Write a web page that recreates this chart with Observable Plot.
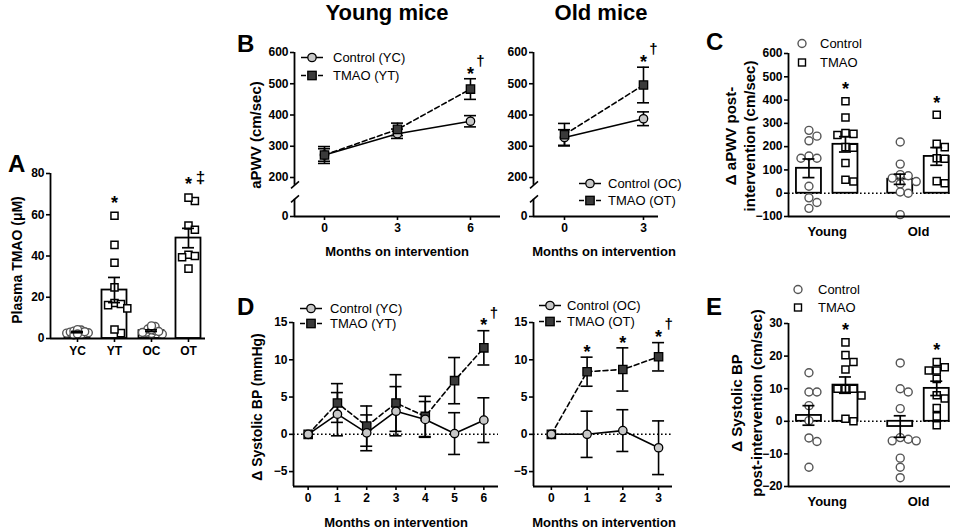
<!DOCTYPE html>
<html><head><meta charset="utf-8">
<script src="https://cdn.jsdelivr.net/npm/d3@7"></script>
<script src="https://cdn.jsdelivr.net/npm/@observablehq/plot@0.6"></script>
<style>
body{margin:0;background:#fff}
#fig{position:relative;width:958px;height:531px;background:#fff;font-family:"Liberation Sans",Arial,sans-serif;color:#000;overflow:hidden}
.ytitle{position:absolute;font-weight:bold;transform:translate(-50%,-50%) rotate(-90deg);white-space:nowrap;text-align:center}
.xtitle{position:absolute;font-weight:bold;font-size:13px;transform:translate(-50%,-50%);white-space:nowrap;line-height:1}
.letter{position:absolute;font-weight:bold;font-size:24px;line-height:1}
.title{position:absolute;font-weight:bold;font-size:22px;line-height:1;transform:translateX(-50%);white-space:nowrap}
.leg{position:absolute;font-size:13px;display:flex;align-items:center;white-space:nowrap;transform:translateY(-50%);line-height:1}
</style></head><body><div id="fig"></div><script>
// ================= DATA =================
// Panel A – plasma TMAO (µM)
const aGroups = ["YC", "YT", "OC", "OT"];
const aYC = [2.0, 2.6, 3.1, 3.6, 4.1, 2.8, 3.3, 1.7, 4.3, 2.2];
const aYT = [59.5, 45.4, 36.7, 24.8, 17.2, 16.7, 14.6, 16.2, 2.6, 4.4];
const aOC = [2.4, 3.0, 3.8, 4.6, 5.8, 2.1, 3.4, 4.2, 2.9, 6.1];
const aOT = [66.7, 68.3, 54.8, 52.7, 40.6, 39.4, 40.0, 33.9];
const aMean = [3.1, 23.5, 3.8, 48.7];
const aSem = [0.3, 6.1, 0.4, 4.7];

// Panel B – aPWV (cm/sec)
const bMonthsYoung = [0, 3, 6];
const bYC = [272, 340, 380], bYCsem = [20, 15, 18];
const bYT = [272, 354, 483], bYTsem = [27, 20, 33];
const bMonthsOld = [0, 3];
const bOC = [328, 388], bOCsem = [25, 22];
const bOT = [337, 496], bOTsem = [36, 57];
const bTicks = [0, 200, 300, 400, 500, 600];

// Panel C – Δ aPWV post-intervention (cm/sec)
const cGroups = ["Young", "Old"];
const cYoungControl = [270, 245, 225, 160, 150, 150, 30, -20, -40, -65];
const cYoungTmao = [395, 325, 255, 258, 250, 198, 195, 130, 50, 58];
const cOldControl = [220, 125, 80, 75, 65, 50, 40, 5, 0, -92];
const cOldTmao = [337, 212, 198, 150, 148, 52, 43];
const cMean = [107, 210, 60, 158];
const cSem = [40, 33, 22, 38];

// Panel D – Δ systolic BP (mmHg)
const dMonthsYoung = [0, 1, 2, 3, 4, 5, 6];
const dYC = [0, 2.7, 0.2, 3.1, 2.0, 0.1, 1.9], dYCsem = [0, 2.9, 2.4, 3.3, 2.4, 2.8, 3.0];
const dYT = [0, 4.2, 1.1, 4.2, 2.4, 7.2, 11.6], dYTsem = [0, 2.6, 2.7, 3.8, 2.7, 3.1, 2.3];
const dMonthsOld = [0, 1, 2, 3];
const dOC = [0, 0.0, 0.5, -1.8], dOCsem = [0, 3.1, 2.8, 3.6];
const dOT = [0, 8.4, 8.7, 10.4], dOTsem = [0, 1.95, 2.9, 1.9];

// Panel E – Δ systolic BP post-intervention
const eYoungControl = [14.9, 9.0, 9.0, 4.8, 0.2, -5.1, -6.2, -14.1];
const eYoungTmao = [24.2, 20.3, 18.2, 15.9, 10, 10, 10, 7.9, 0, 0.8];
const eOldControl = [17.9, 10, 9, 3.9, -5, -5.5, -6, -6, -11.3, -14.1, -17.3];
const eOldTmao = [16.6, 18.2, 15.6, 15.6, 13, 8, 7, 4.1, 1.5, -1.2];
const eMean = [1.8, 11.1, -1.6, 10.1];
const eSem = [3.0, 2.5, 3.3, 2.2];

// ================= HELPERS =================
const FONT = '"Liberation Sans", Arial, sans-serif';
const fig = document.getElementById("fig");
const CTRL_FILL = "#c8c8c8", TMAO_FILL = "#3a3a3a";

function place(svg, left, top) {
  svg.style.position = "absolute";
  svg.style.left = left + "px";
  svg.style.top = top + "px";
  svg.style.overflow = "visible";
  svg.style.maxWidth = "none";
  fig.appendChild(svg);
  svg.querySelectorAll('g[aria-label$="tick"]').forEach(g => g.setAttribute("stroke-width", 1.6));
  return svg;
}
function html(cls, left, top, content, extra = {}) {
  const d = document.createElement("div");
  d.className = cls;
  d.style.left = left + "px";
  d.style.top = top + "px";
  Object.assign(d.style, extra);
  d.innerHTML = content;
  fig.appendChild(d);
  return d;
}
function legend(cx, cy, textX, kind, text) {
  let icon = "";
  if (kind === "ctrlLine") icon = `<line x1="0" x2="22" y1="6" y2="6" stroke="black" stroke-width="1.5"/><circle cx="11" cy="6" r="4.2" fill="${CTRL_FILL}" stroke="black" stroke-width="1.3"/>`;
  if (kind === "tmaoLine") icon = `<line x1="0" x2="5" y1="6" y2="6" stroke="black" stroke-width="1.5"/><line x1="17" x2="22" y1="6" y2="6" stroke="black" stroke-width="1.5"/><rect x="6.8" y="1.8" width="8.4" height="8.4" fill="${TMAO_FILL}" stroke="black" stroke-width="1.3"/>`;
  if (kind === "ctrlDot") icon = `<circle cx="11" cy="6" r="4" fill="white" stroke="#555" stroke-width="1.4"/>`;
  if (kind === "tmaoDot") icon = `<rect x="7.5" y="2.5" width="7" height="7" fill="white" stroke="black" stroke-width="1.4"/>`;
  html("leg", cx - 11, cy, `<svg width="22" height="12" style="overflow:visible">${icon}</svg><span style="margin-left:${textX - (cx + 11)}px">${text}</span>`);
}
function dodge(values, pxY, minD) {
  const order = d3.range(values.length).sort((a, b) => d3.descending(values[a], values[b]));
  const placed = [], out = [];
  const step = minD / 2;
  for (const i of order) {
    const y = values[i] * pxY;
    let off = 0;
    for (let k = 0; k < 60; k++) {
      const c = k === 0 ? 0 : (k % 2 ? 1 : -1) * Math.ceil(k / 2) * step;
      if (placed.every(p => Math.hypot(p.x - c, p.y - y) >= minD)) { off = c; break; }
    }
    placed.push({x: off, y});
    out[i] = off;
  }
  return out;
}
const baseStyle = {fontFamily: FONT, fontSize: "12px", fontWeight: "bold", background: "transparent", overflow: "visible", color: "black"};

function barPanel(o) {
  const pxX = (o.width - o.mL - o.mR) / (o.xDomain[1] - o.xDomain[0]);
  const pxY = (o.height - o.mT - o.mB) / (o.yDomain[1] - o.yDomain[0]);
  const circles = [], squares = [];
  o.groups.forEach(g => {
    const off = dodge(g.values, pxY, 8 * (g.spread || o.spread));
    g.values.forEach((v, i) => (g.symbol === "square" ? squares : circles).push({x: g.x + off[i] / pxX, y: v, stroke: g.stroke}));
  });
  const hw = 12.5 / pxX;
  const bars = o.groups.map(g => ({x: g.x, mean: g.mean, lo: g.mean - g.sem, hi: g.mean + g.sem, top: d3.max(g.values), star: g.star || "", sup: g.sup || ""}));
  const annots = bars.filter(b => b.star);
  const labelMap = new Map(o.xTicks.map((v, i) => [v, o.xLabels[i]]));
  const svg = Plot.plot({
    width: o.width, height: o.height,
    marginLeft: o.mL, marginRight: o.mR, marginTop: o.mT, marginBottom: o.mB,
    style: baseStyle,
    x: {type: "linear", domain: o.xDomain, ticks: o.xTicks, tickFormat: d => labelMap.get(d), tickSize: o.xTickSize, tickPadding: o.xTickPadding, label: null},
    y: {domain: o.yDomain, ticks: o.yTicks, tickSize: 4, tickPadding: 2, label: null},
    marks: [
      o.zeroLine ? Plot.ruleY([0], {strokeDasharray: "1.6,2.4", strokeWidth: 1.6}) : null,
      Plot.rectY(bars, {x1: d => d.x - hw, x2: d => d.x + hw, y1: d => 0, y2: "mean", fill: "white", stroke: "black", strokeWidth: 1.8}),
      Plot.dot(circles, {x: "x", y: "y", r: 4, symbol: "circle", fill: "white", stroke: "stroke", strokeWidth: 1.4}),
      Plot.dot(squares, {x: "x", y: "y", r: 4, symbol: "square", fill: "white", stroke: "stroke", strokeWidth: 1.5}),
      Plot.ruleX(bars, {x: "x", y1: "lo", y2: "hi", strokeWidth: 1.7}),
      Plot.ruleY(bars, {y: "hi", x1: "x", x2: "x", insetLeft: -6, insetRight: -6, strokeWidth: 1.7}),
      Plot.ruleY(bars, {y: "lo", x1: "x", x2: "x", insetLeft: -6, insetRight: -6, strokeWidth: 1.7}),
      Plot.ruleX([o.xDomain[0]], {strokeWidth: 1.8}),
      Plot.ruleY([o.yDomain[0]], {strokeWidth: 1.8}),
      Plot.text(annots, {x: "x", y: "top", text: "star", dy: o.starDy, fontSize: 18, fontWeight: "bold"}),
      Plot.text(annots, {x: "x", y: "top", text: "sup", dy: o.starDy - 7, dx: 12, fontSize: 17, fontWeight: "bold"})
    ]
  });
  svg.querySelectorAll('g[aria-label="x-axis tick label"]').forEach(g => g.setAttribute("font-size", o.xFont || 12));
  return place(svg, o.left, o.top);
}

function linePanel(o) {
  const rows = o.series.map(s => s.x.map((x, i) => ({x, y: s.mean[i], lo: s.mean[i] - s.sem[i], hi: s.mean[i] + s.sem[i]})));
  const annots = o.annots.map(a => {
    const s = o.series[a.series]; const i = s.x.indexOf(a.x);
    return {x: a.x, y: s.mean[i] + s.sem[i], star: a.star, sup: a.sup};
  });
  const x0 = o.xDomain[0];
  const marks = [];
  if (o.zeroLine) marks.push(Plot.ruleY([0], {strokeDasharray: "1.6,2.4", strokeWidth: 1.6}));
  o.series.forEach((s, k) => {
    marks.push(Plot.ruleX(rows[k].filter(d => d.hi > d.lo), {x: "x", y1: "lo", y2: "hi", strokeWidth: 1.6}));
    marks.push(Plot.ruleY(rows[k].filter(d => d.hi > d.lo), {y: "hi", x1: "x", x2: "x", insetLeft: -6, insetRight: -6, strokeWidth: 1.6}));
    marks.push(Plot.ruleY(rows[k].filter(d => d.hi > d.lo), {y: "lo", x1: "x", x2: "x", insetLeft: -6, insetRight: -6, strokeWidth: 1.6}));
  });
  o.series.forEach((s, k) => marks.push(Plot.line(rows[k], {x: "x", y: "y", stroke: "black", strokeWidth: 1.6, strokeDasharray: s.dashed ? "5,3" : null})));
  o.drawOrder.forEach(k => {
    const s = o.series[k];
    marks.push(Plot.dot(rows[k], {x: "x", y: "y", symbol: s.symbol, r: s.symbol === "square" ? 4.7 : 4.2, fill: s.fill, stroke: "black", strokeWidth: 1.3}));
  });
  if (o.axisBreak) {
    const [bLow, bHigh] = o.axisBreak;
    marks.push(Plot.ruleX([x0], {y1: o.yDomain[0], y2: bLow, strokeWidth: 1.8}));
    marks.push(Plot.ruleX([x0], {y1: bHigh, y2: o.yDomain[o.yDomain.length - 1], strokeWidth: 1.8}));
    marks.push((index, scales) => {
      const g = d3.create("svg:g").attr("stroke", "black").attr("stroke-width", 1.6);
      const X = scales.x(x0);
      for (const v of o.axisBreak) {
        const Y = scales.y(v);
        g.append("line").attr("x1", X - 3).attr("y1", Y + 3.5).attr("x2", X + 5).attr("y2", Y - 3.5);
      }
      return g.node();
    });
  } else {
    marks.push(Plot.ruleX([x0], {strokeWidth: 1.8}));
  }
  marks.push(Plot.ruleY([o.yDomain[0]], {strokeWidth: 1.8}));
  marks.push(Plot.text(annots, {x: "x", y: "y", text: "star", dy: -5, fontSize: 18, fontWeight: "bold"}));
  marks.push(Plot.text(annots, {x: "x", y: "y", text: "sup", dy: -18, dx: 10, fontSize: 15, fontWeight: "bold"}));
  const svg = Plot.plot({
    width: o.width, height: o.height,
    marginLeft: o.mL, marginRight: o.mR, marginTop: o.mT, marginBottom: o.mB,
    style: baseStyle,
    x: {type: "linear", domain: o.xDomain, ticks: o.xTicks, tickSize: 4, tickPadding: 3, tickFormat: d => String(d), label: null},
    y: Object.assign({type: "linear", domain: o.yDomain, ticks: o.yTicks, tickSize: 4, tickPadding: 2, label: null}, o.yRange ? {range: o.yRange} : {}),
    marks
  });
  return place(svg, o.left, o.top);
}

// ================= PANEL A =================
const aValues = [aYC, aYT, aOC, aOT];
barPanel({
  left: 0, top: 160, width: 212, height: 210, mL: 50, mR: 7, mT: 13, mB: 32,
  xDomain: [-0.73, 3.46], yDomain: [0, 80], yTicks: [0, 20, 40, 60, 80],
  xTicks: [0, 1, 2, 3], xLabels: aGroups, xTickSize: 4, xTickPadding: 4, xFont: 12,
  spread: 0.7, starDy: -13,
  groups: aGroups.map((g, i) => ({
    x: i, values: aValues[i], mean: aMean[i], sem: aSem[i],
    symbol: g[1] === "T" ? "square" : "circle", stroke: g[1] === "T" ? "black" : "#555",
    spread: g[1] === "T" ? 0.8 : 0.45,
    star: g[1] === "T" ? "*" : "", sup: g === "OT" ? "‡" : ""
  }))
});

// ================= PANEL B =================
linePanel({
  left: 255, top: 40, width: 250, height: 205, mL: 39, mR: 5, mT: 12, mB: 29,
  xDomain: [-1.233, 7.234], xTicks: bMonthsYoung,
  yDomain: [0, 200, 600], yRange: [176, 137, 12], yTicks: bTicks, axisBreak: [88, 160],
  series: [
    {x: bMonthsYoung, mean: bYC, sem: bYCsem, symbol: "circle", fill: CTRL_FILL, dashed: false},
    {x: bMonthsYoung, mean: bYT, sem: bYTsem, symbol: "square", fill: TMAO_FILL, dashed: true}
  ],
  drawOrder: [0, 1],
  annots: [{series: 1, x: 6, star: "*", sup: "†"}]
});
linePanel({
  left: 495, top: 40, width: 170, height: 205, mL: 38, mR: 7, mT: 12, mB: 29,
  xDomain: [-1.177, 3.57], xTicks: bMonthsOld,
  yDomain: [0, 200, 600], yRange: [176, 137, 12], yTicks: bTicks, axisBreak: [88, 160],
  series: [
    {x: bMonthsOld, mean: bOC, sem: bOCsem, symbol: "circle", fill: CTRL_FILL, dashed: false},
    {x: bMonthsOld, mean: bOT, sem: bOTsem, symbol: "square", fill: TMAO_FILL, dashed: true}
  ],
  drawOrder: [0, 1],
  annots: [{series: 1, x: 3, star: "*", sup: "†"}]
});

// ================= PANEL C =================
const cValues = [cYoungControl, cYoungTmao, cOldControl, cOldTmao];
const barX = [0, 1, 2.5, 3.5];
barPanel({
  left: 740, top: 40, width: 215, height: 205, mL: 48, mR: 5, mT: 13, mB: 29,
  xDomain: [-0.56, 3.877], yDomain: [-100, 600], yTicks: d3.range(-100, 601, 100),
  xTicks: [0.5, 3], xLabels: cGroups, xTickSize: 0, xTickPadding: 10, xFont: 13,
  spread: 1.0, starDy: -12, zeroLine: true,
  groups: cValues.map((v, i) => ({
    x: barX[i], values: v, mean: cMean[i], sem: cSem[i],
    symbol: i % 2 ? "square" : "circle", stroke: i % 2 ? "black" : "#555", star: i % 2 ? "*" : ""
  }))
});

// ================= PANEL D =================
linePanel({
  left: 255, top: 305, width: 250, height: 210, mL: 38, mR: 7, mT: 17, mB: 29,
  xDomain: [-0.5, 6.5], xTicks: dMonthsYoung,
  yDomain: [-7, 15], yTicks: [-5, 0, 5, 10, 15], zeroLine: true,
  series: [
    {x: dMonthsYoung, mean: dYC, sem: dYCsem, symbol: "circle", fill: CTRL_FILL, dashed: false},
    {x: dMonthsYoung, mean: dYT, sem: dYTsem, symbol: "square", fill: TMAO_FILL, dashed: true}
  ],
  drawOrder: [1, 0],
  annots: [{series: 1, x: 6, star: "*", sup: "†"}]
});
linePanel({
  left: 495, top: 305, width: 185, height: 210, mL: 38, mR: 8, mT: 17, mB: 29,
  xDomain: [-0.5, 3.39], xTicks: dMonthsOld,
  yDomain: [-7, 15], yTicks: [-5, 0, 5, 10, 15], zeroLine: true,
  series: [
    {x: dMonthsOld, mean: dOC, sem: dOCsem, symbol: "circle", fill: CTRL_FILL, dashed: false},
    {x: dMonthsOld, mean: dOT, sem: dOTsem, symbol: "square", fill: TMAO_FILL, dashed: true}
  ],
  drawOrder: [1, 0],
  annots: [{series: 1, x: 1, star: "*", sup: ""}, {series: 1, x: 2, star: "*", sup: ""}, {series: 1, x: 3, star: "*", sup: "†"}]
});

// ================= PANEL E =================
const eValues = [eYoungControl, eYoungTmao, eOldControl, eOldTmao];
barPanel({
  left: 740, top: 310, width: 215, height: 205, mL: 48, mR: 5, mT: 13, mB: 29,
  xDomain: [-0.56, 3.877], yDomain: [-20, 30], yTicks: d3.range(-20, 31, 10),
  xTicks: [0.5, 3], xLabels: cGroups, xTickSize: 0, xTickPadding: 10, xFont: 13,
  spread: 1.0, starDy: -12, zeroLine: true,
  groups: eValues.map((v, i) => ({
    x: barX[i], values: v, mean: eMean[i], sem: eSem[i],
    symbol: i % 2 ? "square" : "circle", stroke: i % 2 ? "black" : "#555", star: i % 2 ? "*" : ""
  }))
});

// ================= TEXT: titles, letters, axis titles, legends =================
html("title", 387, 2, "Young mice");
html("title", 601, 2, "Old mice");
html("letter", 8, 152, "A");
html("letter", 237, 32, "B");
html("letter", 706, 30, "C");
html("letter", 237, 295, "D");
html("letter", 706, 295, "E");

html("ytitle", 17, 260, "Plasma TMAO (μM)", {fontSize: "14px"});
html("ytitle", 255, 135, "aPWV (cm/sec)", {fontSize: "15px"});
html("ytitle", 257, 407, "Δ Systolic BP (mmHg)", {fontSize: "14px"});
html("ytitle", 740, 136, "Δ aPWV post-<br>intervention (cm/sec)", {fontSize: "15px", lineHeight: "19px"});
html("ytitle", 747, 403, "Δ Systolic BP<br>post-intervention (cm/sec)", {fontSize: "15px", lineHeight: "20px"});

html("xtitle", 397, 251, "Months on intervention");
html("xtitle", 604, 251, "Months on intervention");
html("xtitle", 396, 522, "Months on intervention");
html("xtitle", 604, 522, "Months on intervention");

legend(312, 57, 333, "ctrlLine", "Control (YC)");
legend(312, 75, 333, "tmaoLine", "TMAO (YT)");
legend(590, 183, 608, "ctrlLine", "Control (OC)");
legend(590, 200, 608, "tmaoLine", "TMAO (OT)");
legend(311, 308, 330, "ctrlLine", "Control (YC)");
legend(311, 323, 330, "tmaoLine", "TMAO (YT)");
legend(550, 305, 567, "ctrlLine", "Control (OC)");
legend(550, 321, 567, "tmaoLine", "TMAO (OT)");
legend(802, 43, 820, "ctrlDot", "Control");
legend(802, 62, 820, "tmaoDot", "TMAO");
legend(798, 289, 818, "ctrlDot", "Control");
legend(798, 307, 818, "tmaoDot", "TMAO");
</script></body></html>
